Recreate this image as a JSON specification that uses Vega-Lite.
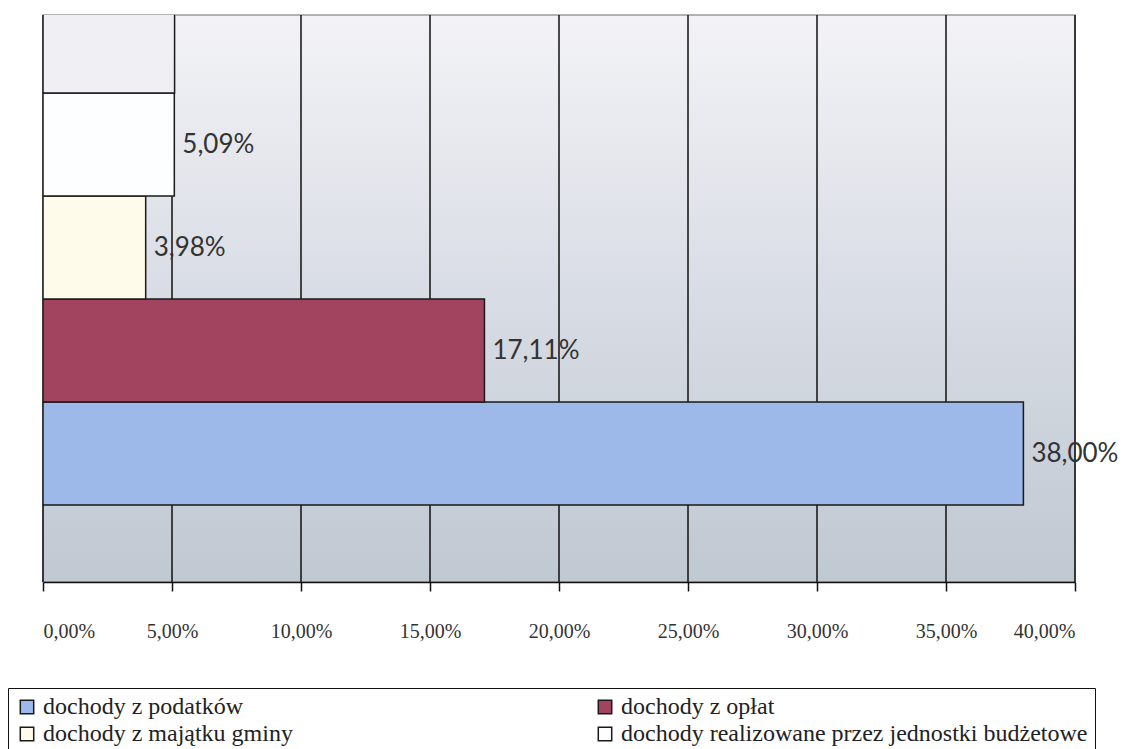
{
  "$schema": "https://vega.github.io/schema/vega-lite/v6.json",
  "autosize": {"type": "none"},
  "width": 1032,
  "height": 567,
  "padding": {"left": 43, "top": 15, "right": 52, "bottom": 167},
  "background": "white",
  "config": {
    "locale": {"number": {"decimal": ",", "thousands": " ", "grouping": [3], "currency": ["", " zł"]}},
    "view": {
      "stroke": "#9a9a9a",
      "strokeWidth": 1.5,
      "fill": {"gradient": "linear", "x1": 0, "y1": 0, "x2": 0, "y2": 1,
        "stops": [{"offset": 0, "color": "#f3f3f7"}, {"offset": 0.5, "color": "#d8dce4"}, {"offset": 1, "color": "#c0c8d2"}]}
    }
  },
  "layer": [
    {
      "data": {"values": [{"g": 0}, {"g": 0.05}, {"g": 0.1}, {"g": 0.15}, {"g": 0.2}, {"g": 0.25}, {"g": 0.3}, {"g": 0.35}, {"g": 0.4}]},
      "mark": {"type": "rule", "color": "#111", "strokeWidth": 1.5},
      "encoding": {
        "x": {
          "field": "g", "type": "quantitative",
          "scale": {"domain": [0, 0.4], "nice": false},
          "axis": {
            "values": [0, 0.05, 0.1, 0.15, 0.2, 0.25, 0.3, 0.35, 0.4],
            "format": ".2%",
            "title": null,
            "grid": false,
            "domainColor": "#111", "domainWidth": 1.5,
            "tickColor": "#111", "tickWidth": 1.5, "tickSize": 9,
            "labelFont": "Liberation Serif", "labelFontSize": 20, "labelColor": "#333",
            "labelPadding": 30
          }
        }
      }
    },
    {
      "data": {"values": [
        {"seria": "dochody z podatków", "wartosc": 0.38},
        {"seria": "dochody z opłat", "wartosc": 0.1711},
        {"seria": "dochody z majątku gminy", "wartosc": 0.0398},
        {"seria": "dochody realizowane przez jednostki budżetowe", "wartosc": 0.0509},
        {"seria": "pozostałe dochody", "wartosc": 0.051}
      ]},
      "encoding": {
        "y": {
          "field": "seria", "type": "nominal",
          "scale": {
            "domain": ["pozostałe dochody", "dochody realizowane przez jednostki budżetowe", "dochody z majątku gminy", "dochody z opłat", "dochody z podatków"],
            "range": [-25, 490], "paddingInner": 0, "paddingOuter": 0
          },
          "axis": null
        },
        "x": {"field": "wartosc", "type": "quantitative", "axis": {"title": null}}
      },
      "layer": [
        {
          "mark": {"type": "bar", "clip": true, "stroke": "#1a1a1a", "strokeWidth": 1.5, "orient": "horizontal"},
          "encoding": {
            "color": {
              "field": "seria", "type": "nominal",
              "scale": {
                "domain": ["dochody z podatków", "dochody z opłat", "dochody z majątku gminy", "dochody realizowane przez jednostki budżetowe", "pozostałe dochody"],
                "range": ["#9cb9e9", "#a2445f", "#fffbea", "#fdfeff", "#efeff4"]
              },
              "legend": {
                "values": ["dochody z podatków", "dochody z opłat", "dochody z majątku gminy", "dochody realizowane przez jednostki budżetowe"],
                "title": null,
                "orient": "none", "legendX": -35, "legendY": 673,
                "direction": "horizontal", "columns": 2, "gridAlign": "each",
                "columnPadding": 300, "rowPadding": 3,
                "symbolType": "square", "symbolSize": 180, "symbolOpacity": 1,
                "labelFont": "Liberation Serif", "labelFontSize": 24, "labelColor": "#222", "labelLimit": 700, "labelOffset": 4,
                "padding": 7, "strokeColor": "#111", "fillColor": "white",
                "encode": {
                  "legend": {"update": {"strokeWidth": {"value": 1.5}}},
                  "labels": {"update": {"font": {"value": "Liberation Serif"}, "fontSize": {"value": 24}}},
                  "symbols": {"update": {
                    "stroke": {"value": "#222"},
                    "strokeWidth": {"value": 1.3},
                    "fill": {"signal": "datum.value === 'dochody realizowane przez jednostki budżetowe' ? '#dcf2f4' : (datum.value === 'dochody z opłat' ? '#5a3a48' : scale('color', datum.value))"}
                  }}
                }
              }
            }
          }
        },
        {
          "transform": [{"filter": "datum.seria !== 'pozostałe dochody'"}],
          "mark": {"type": "text", "align": "left", "baseline": "middle", "dx": 8, "font": "Lato", "fontSize": 26, "color": "#333"},
          "encoding": {"text": {"field": "wartosc", "type": "quantitative", "format": ".2%"}}
        }
      ]
    }
  ]
}
